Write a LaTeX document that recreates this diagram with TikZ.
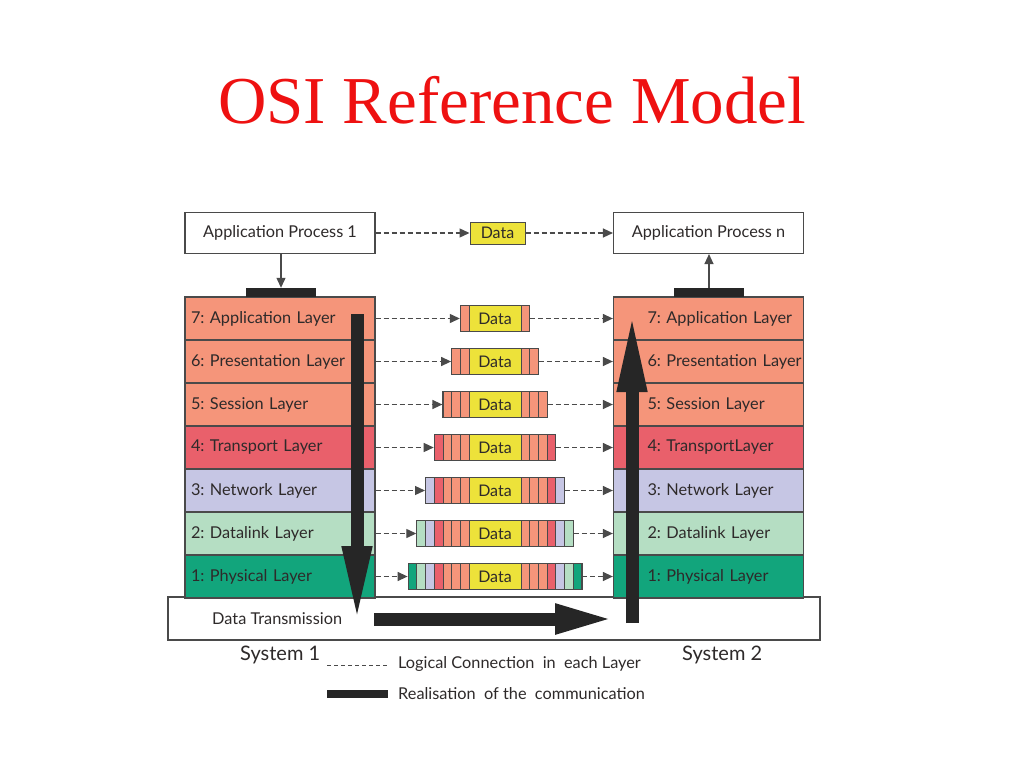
\documentclass[tikz,border=0pt]{standalone}
\usepackage{fontspec}
\setmainfont{Liberation Serif}
\newfontfamily\gs{Lato}
\usetikzlibrary{arrows.meta}
\frenchspacing
\definecolor{appc}{HTML}{F5957A}
\definecolor{trc}{HTML}{E9606B}
\definecolor{netc}{HTML}{C6C6E4}
\definecolor{dlc}{HTML}{B5DEC3}
\definecolor{phc}{HTML}{12A57C}
\definecolor{datac}{HTML}{EDE23A}
\definecolor{linec}{HTML}{4A4A4A}
\definecolor{txtc}{HTML}{2E2A2A}
\definecolor{titlec}{HTML}{EE1111}
\colorlet{seg1}{appc}\colorlet{seg2}{appc}\colorlet{seg3}{appc}
\colorlet{seg4}{trc}\colorlet{seg5}{netc}\colorlet{seg6}{dlc}\colorlet{seg7}{phc}
\begin{document}
\begin{tikzpicture}[x=1pt,y=-1pt,
  layer/.style={draw=linec, line width=1.3pt, minimum width=190pt, minimum height=43pt,
    text width=188pt, align=left, inner xsep=1pt, inner ysep=0pt, text=txtc,
    font=\gs\fontsize{16.3}{19}\selectfont},
  layerL/.style={layer, execute at begin node={\hspace*{5pt}}},
  layerR/.style={layer, execute at begin node={\hspace*{33pt}}},
  procbox/.style={draw=linec, line width=1.1pt, fill=white, minimum width=190pt, minimum height=41pt,
    inner sep=0pt, text=txtc, font=\gs\fontsize{16.3}{19}\selectfont},
  databox/.style={draw=linec, line width=1pt, fill=datac, minimum width=52pt, minimum height=26pt,
    inner sep=0pt, text=txtc, font=\gs\fontsize{16}{19}\selectfont},
  pkt/.style={draw=linec, line width=1pt, minimum height=26pt, inner sep=0pt},
  seg/.style={draw=linec, line width=0.8pt},
  logic/.style={draw=linec, line width=1.3pt, dash pattern=on 5pt off 3pt, -{Triangle[length=10pt,width=9pt]}},
  solidarr/.style={draw=linec, line width=1.2pt, -{Triangle[length=10pt,width=9pt]}},
  bar/.style={fill=black!85},
  bigarrow/.style={draw=black!85, line width=13pt},
  sys/.style={text=txtc, font=\gs\fontsize{20}{24}\selectfont},
  legend/.style={text=txtc, font=\gs\fontsize{16.3}{19}\selectfont, anchor=west, inner sep=0pt}
]
\useasboundingbox (0,0) rectangle (1024,768);
\fill[white] (0,0) rectangle (1024,768);

% title
\node[text=titlec, font=\fontsize{67}{70}\selectfont] (title) at (512,100) {OSI Reference Model};

% Data transmission box
\node[draw=linec, line width=1.1pt, fill=white, minimum width=652pt, minimum height=43pt, inner sep=0pt] (dt) at (494,618.5) {};
\node[text=txtc, font=\gs\fontsize{16.3}{19}\selectfont, anchor=west, inner sep=0pt] (dtt) at (212,619) {Data Transmission};

% layers
\node[layerL, fill=appc] (L7) at (280,318.5) {7: Application Layer};
\node[layerL, fill=appc] (L6) at (280,361.5) {6: Presentation Layer};
\node[layerL, fill=appc] (L5) at (280,404.5) {5: Session Layer};
\node[layerL, fill=trc]  (L4) at (280,447.5) {4: Transport Layer};
\node[layerL, fill=netc] (L3) at (280,490.5) {3: Network Layer};
\node[layerL, fill=dlc]  (L2) at (280,533.5) {2: Datalink Layer};
\node[layerL, fill=phc]  (L1) at (280,576.5) {1: Physical Layer};

\node[layerR, fill=appc] (R7) at (708.5,318.5) {7: Application Layer};
\node[layerR, fill=appc] (R6) at (708.5,361.5) {6: Presentation Layer};
\node[layerR, fill=appc] (R5) at (708.5,404.5) {5: Session Layer};
\node[layerR, fill=trc]  (R4) at (708.5,447.5) {4: TransportLayer};
\node[layerR, fill=netc] (R3) at (708.5,490.5) {3: Network Layer};
\node[layerR, fill=dlc]  (R2) at (708.5,533.5) {2: Datalink Layer};
\node[layerR, fill=phc]  (R1) at (708.5,576.5) {1: Physical Layer};

% application processes
\node[procbox] (AP1) at (280,233) {Application Process 1};
\node[procbox] (APn) at (708.5,233) {Application Process n};
\node[databox, minimum width=55pt, minimum height=22pt] (D0) at (497.5,233) {Data};

% bars on top of stacks
\node[bar, minimum width=70pt, minimum height=9pt, inner sep=0pt] (B1) at (281,292.5) {};
\node[bar, minimum width=70pt, minimum height=9pt, inner sep=0pt] (B2) at (709,292.5) {};
\draw[solidarr] (AP1.south -| B1.north) -- (B1.north);
\draw[solidarr] (B2.north) -- (APn.south -| B2.north);

\draw[logic] (AP1.east) -- (D0.west);
\draw[logic] (D0.east) -- (APn.west);

% packets
\foreach \k/\y in {7/318.5,6/361.5,5/404.5,4/447.5,3/490.5,2/533.5,1/576.5} {
  \pgfmathtruncatemacro\n{8-\k}
  \pgfmathsetmacro\w{52+2*\n*8.7}
  \foreach \i in {1,...,\n} {
    \path[seg, fill=seg\i] ({469-\i*8.7},\y-13) rectangle ({469-(\i-1)*8.7},\y+13);
    \path[seg, fill=seg\i] ({521+(\i-1)*8.7},\y-13) rectangle ({521+\i*8.7},\y+13);
  }
  \node[pkt, minimum width=\w pt] (P\k) at (495,\y) {};
  \node[databox] (Q\k) at (495,\y) {Data};
  \draw[logic] (L\k.east) -- (P\k.west);
  \draw[logic] (P\k.east) -- (R\k.west);
}

% big arrows
\coordinate (dA) at (357,314);
\coordinate (dB) at (357,623);
\coordinate (hA) at (374,619);
\coordinate (hB) at (615,619);
\coordinate (uA) at (632,623);
\coordinate (uB) at (632,312);
\draw[bigarrow, -{Triangle[length=77pt,width=27pt]}] (dA) -- (dB);
\draw[bigarrow, -{Triangle[length=60pt,width=27pt]}] (hA) -- (hB);
\draw[bigarrow, -{Triangle[length=80pt,width=27pt]}] (uA) -- (uB);

% system labels
\node[sys, anchor=base west, inner sep=0pt] (S1) at (240,660) {System 1};
\node[sys, anchor=base west, inner sep=0pt] (S2) at (682,660) {System 2};

% legend
\coordinate (lg1) at (327,665);
\coordinate (lg2) at (388,665);
\draw[draw=linec, line width=1pt, dash pattern=on 4pt off 3pt] (lg1) -- (lg2);
\node[legend] (lt1) at (398,664) {Logical Connection\ \ in\ \ each Layer};
\node[bar, minimum width=61pt, minimum height=8pt, inner sep=0pt] (lb) at (357.5,694) {};
\node[legend] (lt2) at (398,694) {Realisation\ \ of the\ \ communication};
\end{tikzpicture}
\end{document}
